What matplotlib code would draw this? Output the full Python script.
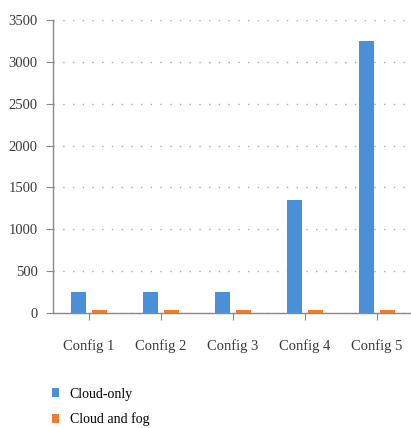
import matplotlib.pyplot as plt
import numpy as np

# -- Data -- #
configs = ['Config 1', 'Config 2', 'Config 3', 'Config 4', 'Config 5']
cloud_only = [250, 250, 250, 1350, 3250]
cloud_fog = [40, 40, 40, 40, 40]
y_ticks = [0, 500, 1000, 1500, 2000, 2500, 3000, 3500]

plt.rcParams['font.family'] = ['Liberation Serif', 'DejaVu Serif']

fig = plt.figure(figsize=(4.11, 4.28), dpi=100)
ax = fig.add_axes([0.129, 0.269, 0.876, 0.684])

x = np.arange(len(configs))
w = 0.21
b1 = ax.bar(x - 0.145, cloud_only, w, color='#4a90d9', label='Cloud-only', zorder=3)
b2 = ax.bar(x + 0.145, cloud_fog, w, color='#ed7d31', label='Cloud and fog', zorder=3)

ax.set_xlim(-0.5, len(configs) - 0.5)
ax.set_ylim(0, 3500)
ax.set_yticks(y_ticks)
ax.set_yticklabels([str(v) for v in y_ticks], fontsize=10.5, color='#3a3a3a')
ax.set_xticks(x)
ax.set_xticklabels(configs, fontsize=10.5, color='#3a3a3a')

# -- Grid and spines -- #
ax.yaxis.grid(True, linestyle=(0, (1, 6)), color='#aaaaaa', linewidth=1.0, zorder=0)
for s in ['top', 'right']:
	ax.spines[s].set_visible(False)
for s in ['left', 'bottom']:
	ax.spines[s].set_color('#888888')
	ax.spines[s].set_linewidth(1.0)
ax.tick_params(axis='y', length=5, color='#888888', pad=6)
ax.tick_params(axis='x', length=5, color='#888888', pad=14)

fig.legend(handles=[b1, b2], loc='upper left', bbox_to_anchor=(0.112, 0.107),
		   frameon=False, fontsize=10, handlelength=0.5, handleheight=0.6,
		   handletextpad=0.8, labelspacing=0.85, borderaxespad=0)

fig.savefig('out.png', dpi=100)
